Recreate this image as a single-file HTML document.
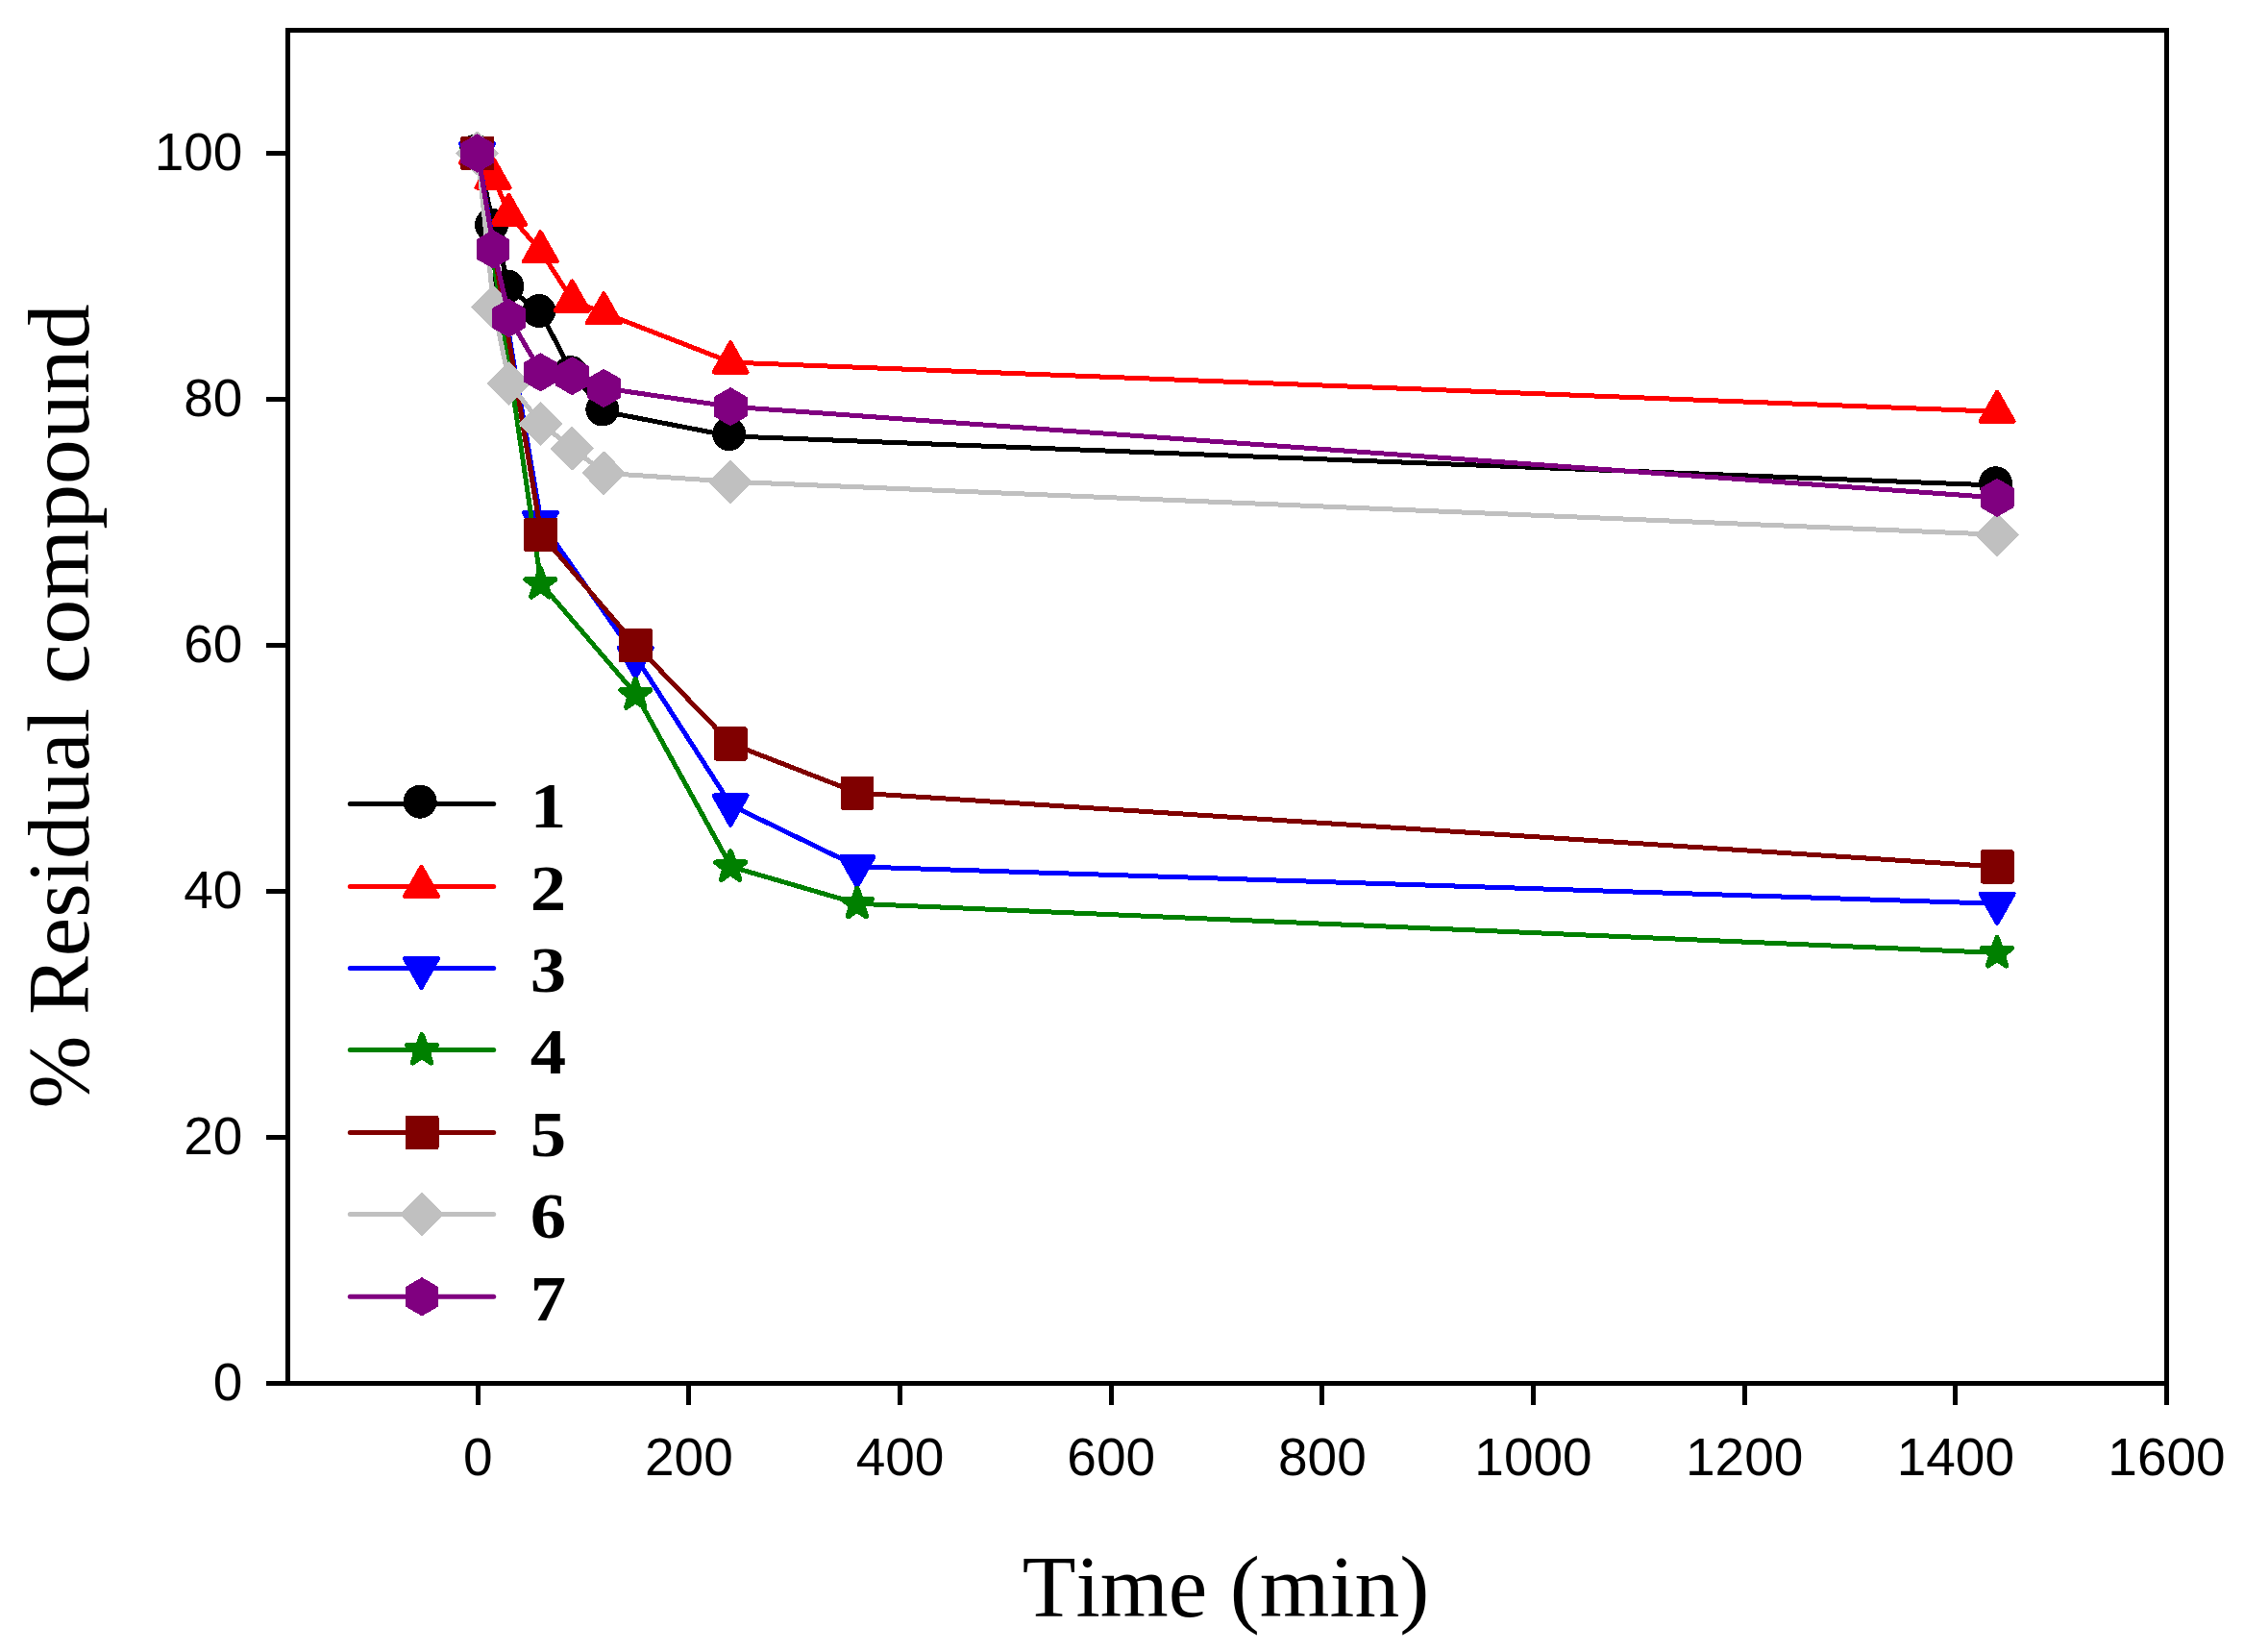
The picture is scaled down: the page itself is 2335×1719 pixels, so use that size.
<!DOCTYPE html>
<html><head><meta charset="utf-8"><title>Residual compound vs time</title>
<style>html,body{margin:0;padding:0;background:#fff}svg{display:block}
.t{font-family:"Liberation Sans",sans-serif;font-size:55px;fill:#000}
.a{font-family:"Liberation Serif",serif;font-size:90px;fill:#000;font-kerning:none;white-space:pre}
.l{font-family:"Liberation Serif",serif;font-weight:bold;font-size:68px;fill:#000;text-anchor:middle}
</style></head><body>
<svg width="2335" height="1719" viewBox="0 0 2335 1719">
<rect width="2335" height="1719" fill="#fff"/>
<g>
<polyline shape-rendering="crispEdges" fill="none" stroke="#000000" stroke-width="5" stroke-linejoin="round" points="497.2,159.5 513.67,236.3 530.15,300.3 563.1,325.9 596.04,389.9 628.99,428.3 760.79,453.9 2078.77,505.1"/>
<circle cx="495" cy="157.2" r="17.5" fill="#000000" shape-rendering="crispEdges"/>
<circle cx="511.47" cy="234" r="17.5" fill="#000000" shape-rendering="crispEdges"/>
<circle cx="527.95" cy="298" r="17.5" fill="#000000" shape-rendering="crispEdges"/>
<circle cx="560.9" cy="323.6" r="17.5" fill="#000000" shape-rendering="crispEdges"/>
<circle cx="593.84" cy="387.6" r="17.5" fill="#000000" shape-rendering="crispEdges"/>
<circle cx="626.79" cy="426" r="17.5" fill="#000000" shape-rendering="crispEdges"/>
<circle cx="758.59" cy="451.6" r="17.5" fill="#000000" shape-rendering="crispEdges"/>
<circle cx="2076.57" cy="502.8" r="17.5" fill="#000000" shape-rendering="crispEdges"/>
</g>
<g>
<polyline shape-rendering="crispEdges" fill="none" stroke="#ff0000" stroke-width="5" stroke-linejoin="round" points="497.2,159.5 513.67,185.1 530.15,223.5 563.1,261.9 596.04,313.1 628.99,325.9 760.79,377.1 2078.77,428.3"/>
<polygon points="496.5,139.1 513.8,169.7 479.2,169.7" fill="#ff0000" stroke="#ff0000" stroke-width="4.5" stroke-linejoin="round" shape-rendering="crispEdges"/>
<polygon points="512.97,164.7 530.27,195.3 495.67,195.3" fill="#ff0000" stroke="#ff0000" stroke-width="4.5" stroke-linejoin="round" shape-rendering="crispEdges"/>
<polygon points="529.45,203.1 546.75,233.7 512.15,233.7" fill="#ff0000" stroke="#ff0000" stroke-width="4.5" stroke-linejoin="round" shape-rendering="crispEdges"/>
<polygon points="562.4,241.5 579.7,272.1 545.1,272.1" fill="#ff0000" stroke="#ff0000" stroke-width="4.5" stroke-linejoin="round" shape-rendering="crispEdges"/>
<polygon points="595.34,292.7 612.64,323.3 578.04,323.3" fill="#ff0000" stroke="#ff0000" stroke-width="4.5" stroke-linejoin="round" shape-rendering="crispEdges"/>
<polygon points="628.29,305.5 645.59,336.1 610.99,336.1" fill="#ff0000" stroke="#ff0000" stroke-width="4.5" stroke-linejoin="round" shape-rendering="crispEdges"/>
<polygon points="760.09,356.7 777.39,387.3 742.79,387.3" fill="#ff0000" stroke="#ff0000" stroke-width="4.5" stroke-linejoin="round" shape-rendering="crispEdges"/>
<polygon points="2078.07,407.9 2095.37,438.5 2060.77,438.5" fill="#ff0000" stroke="#ff0000" stroke-width="4.5" stroke-linejoin="round" shape-rendering="crispEdges"/>
</g>
<g>
<polyline shape-rendering="crispEdges" fill="none" stroke="#0000ff" stroke-width="5" stroke-linejoin="round" points="497.2,159.5 563.1,543.5 661.94,684.3 760.79,837.9 892.59,901.9 2078.77,940.3"/>
<polygon points="496.5,179.9 513.8,149.3 479.2,149.3" fill="#0000ff" stroke="#0000ff" stroke-width="4.5" stroke-linejoin="round" shape-rendering="crispEdges"/>
<polygon points="562.4,563.9 579.7,533.3 545.1,533.3" fill="#0000ff" stroke="#0000ff" stroke-width="4.5" stroke-linejoin="round" shape-rendering="crispEdges"/>
<polygon points="661.24,704.7 678.54,674.1 643.94,674.1" fill="#0000ff" stroke="#0000ff" stroke-width="4.5" stroke-linejoin="round" shape-rendering="crispEdges"/>
<polygon points="760.09,858.3 777.39,827.7 742.79,827.7" fill="#0000ff" stroke="#0000ff" stroke-width="4.5" stroke-linejoin="round" shape-rendering="crispEdges"/>
<polygon points="891.89,922.3 909.19,891.7 874.59,891.7" fill="#0000ff" stroke="#0000ff" stroke-width="4.5" stroke-linejoin="round" shape-rendering="crispEdges"/>
<polygon points="2078.07,960.7 2095.37,930.1 2060.77,930.1" fill="#0000ff" stroke="#0000ff" stroke-width="4.5" stroke-linejoin="round" shape-rendering="crispEdges"/>
</g>
<g>
<polyline shape-rendering="crispEdges" fill="none" stroke="#008000" stroke-width="5" stroke-linejoin="round" points="497.2,159.5 563.1,607.5 661.94,722.7 760.79,901.9 892.59,940.3 2078.77,991.5"/>
<polygon points="496.5,143.8 500.26,154.62 511.71,154.86 502.58,161.78 505.9,172.74 496.5,166.2 487.09,172.74 490.41,161.78 481.28,154.86 492.73,154.62" fill="#008000" stroke="#008000" stroke-width="5.6" stroke-linejoin="round" shape-rendering="crispEdges"/>
<polygon points="562.4,591.8 566.16,602.62 577.61,602.86 568.48,609.78 571.8,620.74 562.4,614.2 552.99,620.74 556.31,609.78 547.18,602.86 558.63,602.62" fill="#008000" stroke="#008000" stroke-width="5.6" stroke-linejoin="round" shape-rendering="crispEdges"/>
<polygon points="661.24,707 665.01,717.82 676.46,718.06 667.33,724.98 670.65,735.94 661.24,729.4 651.84,735.94 655.16,724.98 646.03,718.06 657.48,717.82" fill="#008000" stroke="#008000" stroke-width="5.6" stroke-linejoin="round" shape-rendering="crispEdges"/>
<polygon points="760.09,886.2 763.85,897.02 775.31,897.26 766.18,904.18 769.5,915.14 760.09,908.6 750.69,915.14 754.01,904.18 744.88,897.26 756.33,897.02" fill="#008000" stroke="#008000" stroke-width="5.6" stroke-linejoin="round" shape-rendering="crispEdges"/>
<polygon points="891.89,924.6 895.65,935.42 907.11,935.66 897.98,942.58 901.29,953.54 891.89,947 882.49,953.54 885.8,942.58 876.67,935.66 888.13,935.42" fill="#008000" stroke="#008000" stroke-width="5.6" stroke-linejoin="round" shape-rendering="crispEdges"/>
<polygon points="2078.07,975.8 2081.83,986.62 2093.29,986.86 2084.16,993.78 2087.47,1004.74 2078.07,998.2 2068.67,1004.74 2071.98,993.78 2062.85,986.86 2074.31,986.62" fill="#008000" stroke="#008000" stroke-width="5.6" stroke-linejoin="round" shape-rendering="crispEdges"/>
</g>
<g>
<polyline shape-rendering="crispEdges" fill="none" stroke="#800000" stroke-width="5" stroke-linejoin="round" points="497.2,159.5 563.1,556.3 661.94,671.5 760.79,773.9 892.59,825.1 2078.77,901.9"/>
<polygon points="481.3,143.9 512.1,143.9 512.1,175.1 481.3,175.1" fill="#800000" stroke="#800000" stroke-width="4" stroke-linejoin="round" shape-rendering="crispEdges"/>
<polygon points="547.2,540.7 578,540.7 578,571.9 547.2,571.9" fill="#800000" stroke="#800000" stroke-width="4" stroke-linejoin="round" shape-rendering="crispEdges"/>
<polygon points="646.04,655.9 676.84,655.9 676.84,687.1 646.04,687.1" fill="#800000" stroke="#800000" stroke-width="4" stroke-linejoin="round" shape-rendering="crispEdges"/>
<polygon points="744.89,758.3 775.69,758.3 775.69,789.5 744.89,789.5" fill="#800000" stroke="#800000" stroke-width="4" stroke-linejoin="round" shape-rendering="crispEdges"/>
<polygon points="876.69,809.5 907.49,809.5 907.49,840.7 876.69,840.7" fill="#800000" stroke="#800000" stroke-width="4" stroke-linejoin="round" shape-rendering="crispEdges"/>
<polygon points="2062.87,886.3 2093.67,886.3 2093.67,917.5 2062.87,917.5" fill="#800000" stroke="#800000" stroke-width="4" stroke-linejoin="round" shape-rendering="crispEdges"/>
</g>
<g>
<polyline shape-rendering="crispEdges" fill="none" stroke="#c0c0c0" stroke-width="5" stroke-linejoin="round" points="497.2,159.5 513.67,319.5 530.15,398.86 563.1,441.1 596.04,466.7 628.99,492.3 760.79,501.26 2078.77,556.3"/>
<polygon points="496.5,137.8 518,159.5 496.5,181.2 475,159.5" fill="#c0c0c0" stroke="#c0c0c0" stroke-width="2" stroke-linejoin="round" shape-rendering="crispEdges"/>
<polygon points="512.97,297.8 534.47,319.5 512.97,341.2 491.47,319.5" fill="#c0c0c0" stroke="#c0c0c0" stroke-width="2" stroke-linejoin="round" shape-rendering="crispEdges"/>
<polygon points="529.45,377.16 550.95,398.86 529.45,420.56 507.95,398.86" fill="#c0c0c0" stroke="#c0c0c0" stroke-width="2" stroke-linejoin="round" shape-rendering="crispEdges"/>
<polygon points="562.4,419.4 583.9,441.1 562.4,462.8 540.9,441.1" fill="#c0c0c0" stroke="#c0c0c0" stroke-width="2" stroke-linejoin="round" shape-rendering="crispEdges"/>
<polygon points="595.34,445 616.84,466.7 595.34,488.4 573.84,466.7" fill="#c0c0c0" stroke="#c0c0c0" stroke-width="2" stroke-linejoin="round" shape-rendering="crispEdges"/>
<polygon points="628.29,470.6 649.79,492.3 628.29,514 606.79,492.3" fill="#c0c0c0" stroke="#c0c0c0" stroke-width="2" stroke-linejoin="round" shape-rendering="crispEdges"/>
<polygon points="760.09,479.56 781.59,501.26 760.09,522.96 738.59,501.26" fill="#c0c0c0" stroke="#c0c0c0" stroke-width="2" stroke-linejoin="round" shape-rendering="crispEdges"/>
<polygon points="2078.07,534.6 2099.57,556.3 2078.07,578 2056.57,556.3" fill="#c0c0c0" stroke="#c0c0c0" stroke-width="2" stroke-linejoin="round" shape-rendering="crispEdges"/>
</g>
<g>
<polyline shape-rendering="crispEdges" fill="none" stroke="#800080" stroke-width="5" stroke-linejoin="round" points="497.2,159.5 513.67,259.34 530.15,331.02 563.1,387.34 596.04,391.18 628.99,403.98 760.79,423.18 2078.77,517.9"/>
<polygon points="496.5,140.5 512.95,150 512.95,169 496.5,178.5 480.04,169 480.04,150" fill="#800080" stroke="#800080" stroke-width="2" stroke-linejoin="round" shape-rendering="crispEdges"/>
<polygon points="512.97,240.34 529.43,249.84 529.43,268.84 512.97,278.34 496.52,268.84 496.52,249.84" fill="#800080" stroke="#800080" stroke-width="2" stroke-linejoin="round" shape-rendering="crispEdges"/>
<polygon points="529.45,312.02 545.9,321.52 545.9,340.52 529.45,350.02 512.99,340.52 512.99,321.52" fill="#800080" stroke="#800080" stroke-width="2" stroke-linejoin="round" shape-rendering="crispEdges"/>
<polygon points="562.4,368.34 578.85,377.84 578.85,396.84 562.4,406.34 545.94,396.84 545.94,377.84" fill="#800080" stroke="#800080" stroke-width="2" stroke-linejoin="round" shape-rendering="crispEdges"/>
<polygon points="595.34,372.18 611.8,381.68 611.8,400.68 595.34,410.18 578.89,400.68 578.89,381.68" fill="#800080" stroke="#800080" stroke-width="2" stroke-linejoin="round" shape-rendering="crispEdges"/>
<polygon points="628.29,384.98 644.75,394.48 644.75,413.48 628.29,422.98 611.84,413.48 611.84,394.48" fill="#800080" stroke="#800080" stroke-width="2" stroke-linejoin="round" shape-rendering="crispEdges"/>
<polygon points="760.09,404.18 776.55,413.68 776.55,432.68 760.09,442.18 743.64,432.68 743.64,413.68" fill="#800080" stroke="#800080" stroke-width="2" stroke-linejoin="round" shape-rendering="crispEdges"/>
<polygon points="2078.07,498.9 2094.52,508.4 2094.52,527.4 2078.07,536.9 2061.62,527.4 2061.62,508.4" fill="#800080" stroke="#800080" stroke-width="2" stroke-linejoin="round" shape-rendering="crispEdges"/>
</g>
<g fill="#000" shape-rendering="crispEdges">
<rect x="297" y="29" width="1960" height="5"/>
<rect x="297" y="1437" width="1960" height="5"/>
<rect x="297" y="29" width="5" height="1413"/>
<rect x="2252" y="29" width="5" height="1433"/>
<rect x="277" y="1437" width="20" height="5"/>
<rect x="277" y="1181" width="20" height="5"/>
<rect x="277" y="925" width="20" height="5"/>
<rect x="277" y="669" width="20" height="5"/>
<rect x="277" y="413" width="20" height="5"/>
<rect x="277" y="157" width="20" height="5"/>
<rect x="495" y="1442" width="5" height="20"/>
<rect x="714" y="1442" width="5" height="20"/>
<rect x="934" y="1442" width="5" height="20"/>
<rect x="1154" y="1442" width="5" height="20"/>
<rect x="1373" y="1442" width="5" height="20"/>
<rect x="1593" y="1442" width="5" height="20"/>
<rect x="1813" y="1442" width="5" height="20"/>
<rect x="2032" y="1442" width="5" height="20"/>
</g>
<g class="t" text-anchor="end">
<text x="252.4" y="1456.9">0</text>
<text x="252.4" y="1200.9">20</text>
<text x="252.4" y="944.9">40</text>
<text x="252.4" y="688.9">60</text>
<text x="252.4" y="432.9">80</text>
<text x="252.4" y="176.9">100</text>
</g>
<g class="t" text-anchor="middle">
<text x="497.2" y="1535.3">0</text>
<text x="716.86" y="1535.3">200</text>
<text x="936.52" y="1535.3">400</text>
<text x="1156.19" y="1535.3">600</text>
<text x="1375.85" y="1535.3">800</text>
<text x="1595.51" y="1535.3">1000</text>
<text x="1815.17" y="1535.3">1200</text>
<text x="2034.84" y="1535.3">1400</text>
<text x="2254.5" y="1535.3">1600</text>
</g>
<text class="a" y="1682.3"><tspan x="1063.8" textLength="192.5" lengthAdjust="spacingAndGlyphs">Time</tspan><tspan x="1256.3" textLength="231.1" lengthAdjust="spacingAndGlyphs"> (min)</tspan></text>
<text class="a" transform="translate(92 0) rotate(-90)" y="0"><tspan x="-1153.6" textLength="76" lengthAdjust="spacingAndGlyphs">%</tspan><tspan x="-1078.9" textLength="342" lengthAdjust="spacingAndGlyphs"> Residual</tspan><tspan x="-735.5" textLength="419" lengthAdjust="spacingAndGlyphs"> compound</tspan></text>
<line x1="364.3" y1="836.5" x2="513.7" y2="836.5" stroke="#000000" stroke-width="5" stroke-linecap="round"/>
<circle cx="437.1" cy="834.2" r="17.5" fill="#000000" shape-rendering="crispEdges"/>
<text class="l" x="570.5" y="861" textLength="37.4" lengthAdjust="spacingAndGlyphs">1</text>
<line x1="364.3" y1="922.5" x2="513.7" y2="922.5" stroke="#ff0000" stroke-width="5" stroke-linecap="round"/>
<polygon points="438.45,902.1 455.75,932.7 421.15,932.7" fill="#ff0000" stroke="#ff0000" stroke-width="4.5" stroke-linejoin="round" shape-rendering="crispEdges"/>
<text class="l" x="570.5" y="947" textLength="37.4" lengthAdjust="spacingAndGlyphs">2</text>
<line x1="364.3" y1="1007.5" x2="513.7" y2="1007.5" stroke="#0000ff" stroke-width="5" stroke-linecap="round"/>
<polygon points="438.45,1027.9 455.75,997.3 421.15,997.3" fill="#0000ff" stroke="#0000ff" stroke-width="4.5" stroke-linejoin="round" shape-rendering="crispEdges"/>
<text class="l" x="570.5" y="1032" textLength="37.4" lengthAdjust="spacingAndGlyphs">3</text>
<line x1="364.3" y1="1092.5" x2="513.7" y2="1092.5" stroke="#008000" stroke-width="5" stroke-linecap="round"/>
<polygon points="439,1076.8 442.76,1087.62 454.22,1087.86 445.09,1094.78 448.4,1105.74 439,1099.2 429.6,1105.74 432.91,1094.78 423.78,1087.86 435.24,1087.62" fill="#008000" stroke="#008000" stroke-width="5.6" stroke-linejoin="round" shape-rendering="crispEdges"/>
<text class="l" x="570.5" y="1117" textLength="37.4" lengthAdjust="spacingAndGlyphs">4</text>
<line x1="364.3" y1="1178.5" x2="513.7" y2="1178.5" stroke="#800000" stroke-width="5" stroke-linecap="round"/>
<polygon points="423.8,1162.9 454.6,1162.9 454.6,1194.1 423.8,1194.1" fill="#800000" stroke="#800000" stroke-width="4" stroke-linejoin="round" shape-rendering="crispEdges"/>
<text class="l" x="570.5" y="1203" textLength="37.4" lengthAdjust="spacingAndGlyphs">5</text>
<line x1="364.3" y1="1263.5" x2="513.7" y2="1263.5" stroke="#c0c0c0" stroke-width="5" stroke-linecap="round"/>
<polygon points="439,1241.8 460.5,1263.5 439,1285.2 417.5,1263.5" fill="#c0c0c0" stroke="#c0c0c0" stroke-width="2" stroke-linejoin="round" shape-rendering="crispEdges"/>
<text class="l" x="570.5" y="1288" textLength="37.4" lengthAdjust="spacingAndGlyphs">6</text>
<line x1="364.3" y1="1349.3" x2="513.7" y2="1349.3" stroke="#800080" stroke-width="5" stroke-linecap="round"/>
<polygon points="439,1330.3 455.45,1339.8 455.45,1358.8 439,1368.3 422.55,1358.8 422.55,1339.8" fill="#800080" stroke="#800080" stroke-width="2" stroke-linejoin="round" shape-rendering="crispEdges"/>
<text class="l" x="570.5" y="1373.8" textLength="37.4" lengthAdjust="spacingAndGlyphs">7</text>
</svg></body></html>
